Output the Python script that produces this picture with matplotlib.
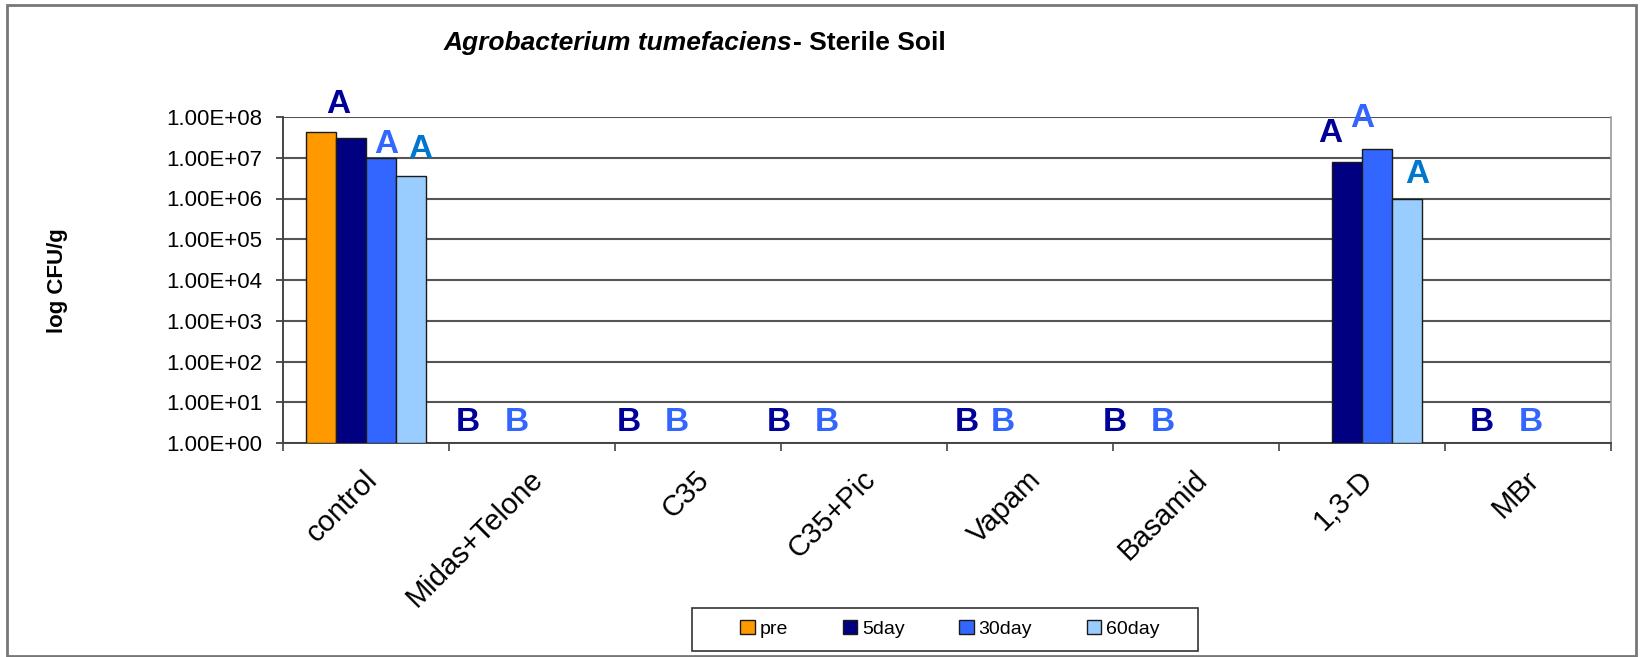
import numpy as np
import matplotlib
matplotlib.use("Agg")
import matplotlib.pyplot as plt
import matplotlib.transforms as mtransforms
from matplotlib.patches import Rectangle
from matplotlib.ticker import FixedLocator, FuncFormatter, NullLocator

plt.rcParams['font.family'] = ['Liberation Sans', 'DejaVu Sans']

# ──────────────────────────────────────
# Data (log CFU/g, 0 = nothing recovered)
treatments = ['control', 'Midas+Telone', 'C35', 'C35+Pic', 'Vapam', 'Basamid', '1,3-D', 'MBr']
series = ['pre', '5day', '30day', '60day']
pre_cfu   = [4.4e7, 0, 0, 0, 0, 0, 0, 0]
day5_cfu  = [3.1e7, 0, 0, 0, 0, 0, 8.0e6, 0]
day30_cfu = [1.0e7, 0, 0, 0, 0, 0, 1.6e7, 0]
day60_cfu = [3.6e6, 0, 0, 0, 0, 0, 9.8e5, 0]
values = [pre_cfu, day5_cfu, day30_cfu, day60_cfu]

# significance letters: (treatment index, letter, colour)
sig_letters = [
    (0, 'A', 'navy'), (0, 'A', 'blue'), (0, 'A', 'teal'),
    (1, 'B', 'navy'), (1, 'B', 'blue'),
    (2, 'B', 'navy'), (2, 'B', 'blue'),
    (3, 'B', 'navy'), (3, 'B', 'blue'),
    (4, 'B', 'navy'), (4, 'B', 'blue'),
    (5, 'B', 'navy'), (5, 'B', 'blue'),
    (6, 'A', 'navy'), (6, 'A', 'blue'), (6, 'A', 'teal'),
    (7, 'B', 'navy'), (7, 'B', 'blue'),
]
# where each letter sits: (x offset in categories, log10 of baseline)
letter_place = [
    (-0.17, 8.10), (0.12, 7.115), (0.325, 6.99),
    (-0.386, 0.285), (-0.09, 0.285),
    (-0.416, 0.285), (-0.127, 0.285),
    (-0.512, 0.285), (-0.223, 0.285),
    (-0.38, 0.285), (-0.163, 0.285),
    (-0.488, 0.285), (-0.199, 0.285),
    (-0.193, 7.385), (0.0, 7.75), (0.331, 6.38),
    (-0.277, 0.285), (0.018, 0.285),
]

bar_colors = ['#FF9900', '#000080', '#3366FF', '#99CCFF']
letter_colors = {'navy': '#000099', 'blue': '#3366FF', 'teal': '#0077CC'}

# ──────────────────────────────────────
W, H = 1645, 657
fig = plt.figure(figsize=(W / 100, H / 100), dpi=100)
ax = fig.add_axes([283 / W, 1 - 443 / H, (1611 - 283) / W, (443 - 117) / H])

x = np.arange(len(treatments))
bw = 0.181
for k, (name, vals) in enumerate(zip(series, values)):
    vals = np.asarray(vals, dtype=float)
    keep = vals > 0
    ax.bar(x[keep] + (k - 1.5) * bw, vals[keep] - 1, bottom=1, width=bw,
           color=bar_colors[k], edgecolor='#1a1a1a', linewidth=1.0, zorder=3)

ax.set_yscale('log')
ax.set_ylim(1, 1e8)
ax.set_xlim(-0.5, len(treatments) - 0.5)

# y axis
ax.yaxis.set_major_locator(FixedLocator([10.0 ** p for p in range(0, 9)]))
ax.yaxis.set_minor_locator(NullLocator())
ax.yaxis.set_major_formatter(FuncFormatter(lambda v, _: f'{v:.2E}'))
ax.tick_params(axis='y', which='major', direction='out', length=5, width=1.2,
               color='#333333', pad=10, labelsize=16)
ax.yaxis.grid(True, color='#555555', linewidth=1.5, zorder=0)

# x axis: labels at centre, ticks between categories
ax.set_xticks(x)
ax.set_xticklabels(treatments, rotation=45, ha='right', rotation_mode='anchor', fontsize=21)
ax.set_xticks(np.arange(-0.5, len(treatments)), minor=True)
ax.tick_params(axis='x', which='major', length=0, pad=16)
ax.tick_params(axis='x', which='minor', direction='out', length=6, width=1.2, color='#444444')
shift = mtransforms.ScaledTranslation(-0.03, 0, fig.dpi_scale_trans)
for lab in ax.get_xticklabels():
    lab.set_transform(lab.get_transform() + shift)

for side in ['left', 'bottom']:
    ax.spines[side].set_color('#444444')
    ax.spines[side].set_linewidth(1.4)
ax.spines['top'].set_visible(False)
ax.spines['right'].set_color('#999999')
ax.spines['right'].set_linewidth(1.2)

# letters
for (ti, letter, ckey), (dx, ly) in zip(sig_letters, letter_place):
    ax.text(ti + dx, 10 ** ly, letter, ha='center', va='baseline', fontsize=24,
            fontweight='bold', color=letter_colors[ckey], zorder=5)

# y label
fig.text(57 / W, 1 - 281 / H, 'log CFU/g', rotation=90, ha='center', va='center',
         fontsize=16, fontweight='bold')

# title (italic species name + plain part)
renderer = fig.canvas.get_renderer()
t1 = fig.text(444 / W, 1 - 50 / H, 'Agrobacterium tumefaciens', fontsize=19,
              fontweight='bold', fontstyle='italic', ha='left', va='baseline')
bb = t1.get_window_extent(renderer=renderer)
fig.text(bb.x1 / W, 1 - 50 / H, '- Sterile Soil', fontsize=19, fontweight='bold',
         ha='left', va='baseline')

# legend
handles = [Rectangle((0, 0), 1, 1, facecolor=c, edgecolor='#1a1a1a', linewidth=1.0)
           for c in bar_colors]
leg = fig.legend(handles, series, loc='center', bbox_to_anchor=(950 / W, 1 - 629 / H),
                 ncol=4, frameon=False, fontsize=14, handlelength=0.75, handleheight=0.75,
                 handletextpad=0.25, columnspacing=2.8)
fig.patches.append(Rectangle((692 / W, 1 - 651 / H), (1198 - 692) / W, (651 - 608) / H,
                             transform=fig.transFigure, facecolor='none',
                             edgecolor='#333333', linewidth=1.2))

# chart area border
fig.patches.append(Rectangle((7 / W, 1 / H), (1636 - 7) / W, (652 - 1) / H,
                             transform=fig.transFigure, facecolor='none',
                             edgecolor='#777777', linewidth=2.0))

fig.savefig('out.png', dpi=100)
